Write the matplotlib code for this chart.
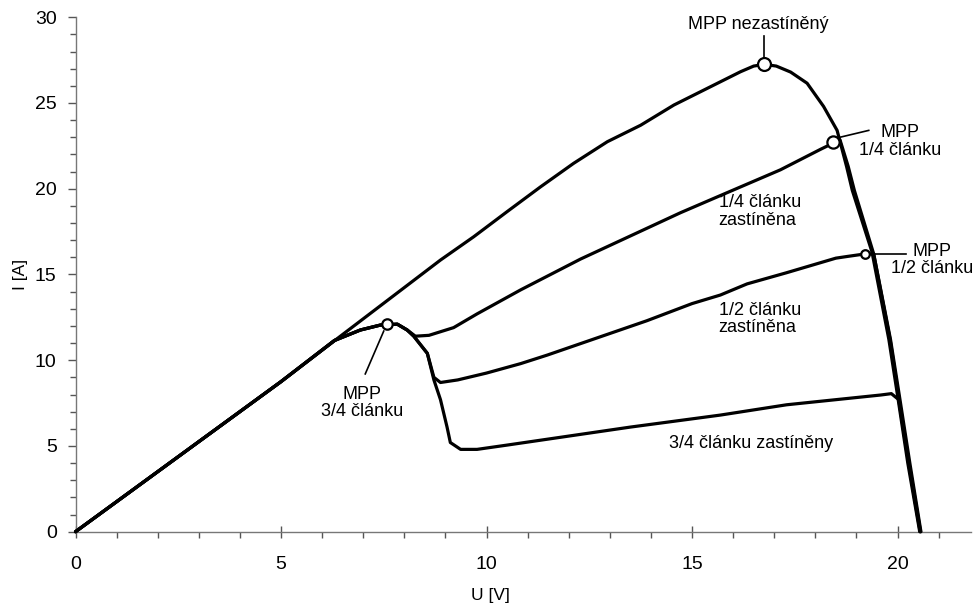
import matplotlib
matplotlib.use("Agg")
import matplotlib.pyplot as plt
from matplotlib.ticker import MultipleLocator

plt.rcParams['font.family'] = ['Liberation Sans', 'DejaVu Sans']

# unshaded module
U_full = [0, 2, 5, 6.5, 8.88, 9.69, 10.5, 11.31, 12.12, 12.94, 13.75, 14.56, 15.37,
          16.18, 16.5, 16.76, 17.05, 17.4, 17.8, 18.2, 18.53, 18.76, 18.9, 19.38,
          19.79, 20.01, 20.25, 20.54]
I_full = [0, 3.5, 8.75, 11.5, 15.84, 17.2, 18.66, 20.1, 21.48, 22.74, 23.7, 24.88, 25.85,
          26.82, 27.15, 27.25, 27.15, 26.8, 26.15, 24.8, 23.4, 21.3, 19.9, 16.3,
          11.2, 7.8, 4.0, 0]

# 1/4 cell shaded
U_q1 = [0, 2, 5, 6.3, 6.93, 7.42, 7.83, 8.07, 8.27, 8.6, 9.2, 9.77, 10.83, 12.29,
        14.72, 15.69, 17.15, 18.13, 18.43, 18.6, 18.8, 18.95, 19.42, 19.83, 20.06,
        20.3, 20.57]
I_q1 = [0, 3.5, 8.75, 11.15, 11.76, 12.05, 12.1, 11.76, 11.4, 11.45, 11.9, 12.7, 14.1,
        15.9, 18.6, 19.6, 21.1, 22.3, 22.65, 22.85, 21.3, 19.9, 16.2, 11.2, 7.7,
        4.0, 0]

# 1/2 cell shaded
U_q2 = [0, 2, 5, 6.3, 6.93, 7.42, 7.83, 8.07, 8.23, 8.56, 8.72, 8.88, 9.3, 10.0,
        10.83, 11.48, 13.9, 15.0, 15.69, 16.34, 17.3, 18.5, 18.78, 19.22, 19.42, 19.82,
        20.04, 20.28, 20.56]
I_q2 = [0, 3.5, 8.75, 11.15, 11.76, 12.05, 12.1, 11.76, 11.4, 10.4, 9.0, 8.7, 8.85,
        9.25, 9.8, 10.3, 12.3, 13.3, 13.8, 14.45, 15.1, 15.95, 16.05, 16.2, 16.2, 11.2,
        7.7, 4.0, 0]

# 3/4 cell shaded
U_q3 = [0, 2, 5, 6.3, 6.93, 7.42, 7.83, 8.07, 8.23, 8.56, 8.72, 8.88, 9.04, 9.12,
        9.37, 9.77, 10.5, 11.5, 13.5, 15.69, 17.3, 19.59, 19.85, 20.03, 20.27, 20.55]
I_q3 = [0, 3.5, 8.75, 11.15, 11.76, 12.05, 12.1, 11.76, 11.4, 10.4, 8.85, 7.7, 6.1,
        5.2, 4.8, 4.8, 5.05, 5.4, 6.1, 6.8, 7.4, 7.97, 8.05, 7.7, 4.0, 0]

# MPP points
mpp_u = [16.76, 18.43, 19.22, 7.58]
mpp_i = [27.3, 22.75, 16.2, 12.1]
mpp_size = [9.3, 8.8, 6.2, 7.5]

xticks = [0, 5, 10, 15, 20]
yticks = [0, 5, 10, 15, 20, 25, 30]

fig = plt.figure(figsize=(9.74, 6.07), dpi=100)
ax = fig.add_axes([75.5 / 974, 1 - 531.7 / 607, 896 / 974, 514.5 / 607])

lw = 2.3
for U, I in [(U_full, I_full), (U_q1, I_q1), (U_q2, I_q2), (U_q3, I_q3)]:
    ax.plot(U, I, color='black', lw=lw, solid_joinstyle='round', solid_capstyle='round',
            clip_on=False, zorder=3)

# annotation leader lines
ax.plot([16.76, 16.76], [27.6, 28.9], color='black', lw=1.2, zorder=2)
ax.plot([18.6, 19.3], [23.0, 23.4], color='black', lw=1.2, zorder=2)
ax.plot([19.4, 20.2], [16.2, 16.2], color='black', lw=1.2, zorder=2)
ax.plot([7.5, 7.05], [11.7, 9.2], color='black', lw=1.2, zorder=2)

for u, i, s in zip(mpp_u, mpp_i, mpp_size):
    ax.plot([u], [i], marker='o', ms=s, mfc='white', mec='black', mew=1.6,
            zorder=5, clip_on=False)

fs = 13
ax.text(16.62, 29.6, 'MPP nezastíněný', ha='center', va='center', fontsize=fs)
ax.text(20.07, 22.75, 'MPP\n1/4 článku', ha='center', va='center', fontsize=fs,
        linespacing=1.05)
ax.text(20.85, 15.85, 'MPP\n1/2 článku', ha='center', va='center', fontsize=fs,
        linespacing=1.05)
ax.text(6.97, 7.5, 'MPP\n3/4 článku', ha='center', va='center', fontsize=fs,
        linespacing=1.05)
ax.text(15.65, 18.66, '1/4 článku\nzastíněna', ha='left', va='center', fontsize=fs,
        linespacing=1.05)
ax.text(15.65, 12.41, '1/2 článku\nzastíněna', ha='left', va='center', fontsize=fs,
        linespacing=1.05)
ax.text(14.44, 5.15, '3/4 článku zastíněny', ha='left', va='center', fontsize=fs)

ax.set_xlim(0, 21.8)
ax.set_ylim(0, 30)
ax.set_xticks(xticks)
ax.set_yticks(yticks)
ax.xaxis.set_minor_locator(MultipleLocator(1))
ax.yaxis.set_minor_locator(MultipleLocator(1))

for side in ['top', 'right']:
    ax.spines[side].set_visible(False)
for side in ['left', 'bottom']:
    ax.spines[side].set_color('#777777')
    ax.spines[side].set_linewidth(1.0)

ax.tick_params(axis='x', which='major', direction='inout', length=9, width=1,
               color='#555555', labelsize=14, pad=13)
ax.tick_params(axis='x', which='minor', direction='out', length=4.5, width=1,
               color='#555555')
ax.tick_params(axis='y', which='major', direction='out', length=5.5, width=1,
               color='#555555', labelsize=14, pad=8)
ax.tick_params(axis='y', which='minor', direction='out', length=4, width=1,
               color='#555555')

ax.set_xlabel('U [V]', fontsize=12.5)
ax.set_ylabel('I [A]', fontsize=12.5)
ax.xaxis.set_label_coords(10.1 / 21.8, -0.11)
ax.yaxis.set_label_coords(-0.053, 0.5)

fig.savefig('out.png', dpi=100)
